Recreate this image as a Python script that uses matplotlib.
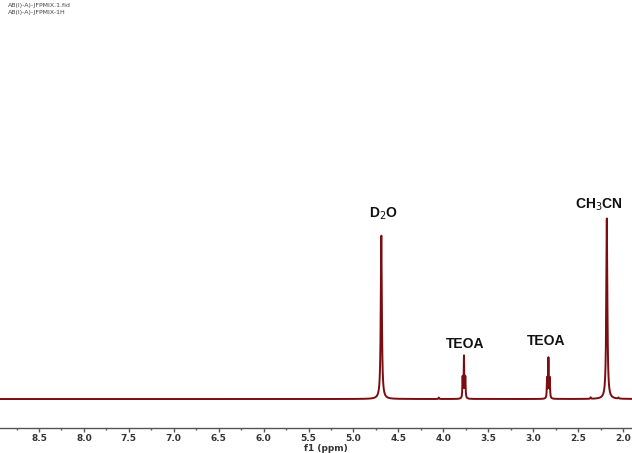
import numpy as np
import matplotlib
matplotlib.use("Agg")
import matplotlib.pyplot as plt
from matplotlib.ticker import MultipleLocator

# Peak list: chemical shift (ppm), intensity (relative), half-width (ppm)
peak_ppm = [4.69, 3.785, 3.770, 3.755, 2.845, 2.830, 2.815, 2.18, 4.05, 2.36, 2.05]
peak_height = [0.905, 0.115, 0.23, 0.115, 0.11, 0.22, 0.11, 1.0, 0.008, 0.008, 0.006]
peak_width = [0.007, 0.0035, 0.0035, 0.0035, 0.0035, 0.0035, 0.0035, 0.007, 0.004, 0.004, 0.004]

peak_labels = ["D$_2$O", "TEOA", "TEOA", "CH$_3$CN"]
label_ppm = [4.67, 3.76, 2.86, 2.27]
label_y = [0.98, 0.265, 0.28, 1.03]

header_lines = ["AB(I)-A)-JFPMIX.1.fid", "AB(I)-A)-JFPMIX-1H"]
xticks = [8.5, 8.0, 7.5, 7.0, 6.5, 6.0, 5.5, 5.0, 4.5, 4.0, 3.5, 3.0, 2.5, 2.0]

ppm = np.linspace(1.85, 9.0, 40000)
spec = np.zeros_like(ppm)
for c, h, w in zip(peak_ppm, peak_height, peak_width):
    spec += h / (1 + ((ppm - c) / w) ** 2)

fig = plt.figure(figsize=(6.32, 4.53), dpi=100)
ax = fig.add_axes([0.0, 0.055, 1.0, 0.925])
ax.plot(ppm, spec, color="#7b0c10", lw=1.4)
ax.set_xlim(8.934, 1.90)
ax.set_ylim(-0.161, 2.16)

for s in ["top", "left", "right"]:
    ax.spines[s].set_visible(False)
ax.spines["bottom"].set_color("#555555")
ax.spines["bottom"].set_linewidth(1.0)
ax.set_yticks([])
ax.set_xticks(xticks)
ax.set_xticklabels([f"{t:.1f}" for t in xticks], fontsize=6.5, fontweight="bold",
                   color="#333333", family="DejaVu Sans")
ax.xaxis.set_minor_locator(MultipleLocator(0.25))
ax.tick_params(axis="x", which="major", length=3, width=1, color="#555555", pad=1.5)
ax.tick_params(axis="x", which="minor", length=1.5, width=1, color="#555555")
ax.set_xlabel("f1 (ppm)", fontsize=6.5, fontweight="bold", color="#333333", labelpad=0)
ax.xaxis.set_label_coords(326 / 632, -0.038)

for lab, x, y in zip(peak_labels, label_ppm, label_y):
    ax.text(x, y, lab, ha="center", va="bottom", fontsize=10, fontweight="bold",
            family="Liberation Sans", color="#111111")

for i, line in enumerate(header_lines):
    fig.text(8 / 632, 1 - (3 + 7 * i) / 453, line, ha="left", va="top",
             fontsize=4.5, color="#444444")

fig.savefig("out.png", dpi=100, facecolor="white")
